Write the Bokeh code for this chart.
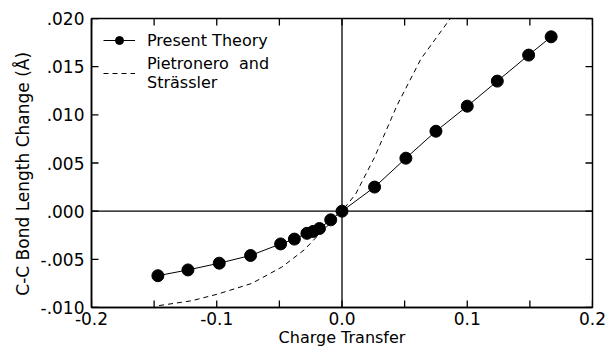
from bokeh.plotting import figure
from bokeh.models import (LinearAxis, FixedTicker, Span, Legend, LegendItem, Range1d)
from bokeh.embed import file_html
from bokeh.resources import INLINE

# Present theory
theory_x = [-0.147, -0.123, -0.098, -0.073, -0.049, -0.038, -0.028, -0.023, -0.018, -0.009, 0.0,
            0.026, 0.051, 0.075, 0.100, 0.124, 0.149, 0.167]
theory_y = [-0.0067, -0.0061, -0.0054, -0.0046, -0.0034, -0.0029, -0.0023, -0.0021, -0.0018, -0.0009, 0.0,
            0.0025, 0.0055, 0.0083, 0.0109, 0.0135, 0.0162, 0.0181]

# Pietronero and Strässler (dashed curve)
ps_x = [-0.146, -0.12, -0.099, -0.072, -0.048, -0.030, -0.019, -0.009, 0.0, 0.011, 0.026, 0.044, 0.063, 0.0865]
ps_y = [-0.0098, -0.0093, -0.0086, -0.0075, -0.0058, -0.0040, -0.0025, -0.0012, 0.0, 0.0018, 0.0056, 0.0110, 0.0158, 0.0200]

x_ticks = [-0.2, -0.1, 0.0, 0.1, 0.2]
x_tick_labels = ["-0.2", "-0.1", "0.0", "0.1", "0.2"]
x_minor = [-0.15, -0.05, 0.05, 0.15]
y_ticks = [-0.010, -0.005, 0.0, 0.005, 0.010, 0.015, 0.020]
y_tick_labels = ["-.010", "-.005", ".000", ".005", ".010", ".015", ".020"]

X_LO, X_HI = -0.2, 0.2
Y_LO, Y_HI = -0.010, 0.020
FRAME_W, FRAME_H = 501, 289
TICK_PX = 7

FONT = "DejaVu Sans"

p = figure(width=608, height=349, output_backend="svg", toolbar_location=None,
           x_range=Range1d(X_LO, X_HI), y_range=Range1d(Y_LO, Y_HI),
           x_axis_type=None, y_axis_type=None,
           min_border_left=91, min_border_right=16, min_border_top=18, min_border_bottom=42)
p.xgrid.visible = False
p.ygrid.visible = False
p.outline_line_color = "black"
p.outline_line_width = 1.5
p.background_fill_color = "white"
p.border_fill_color = "white"

def style(ax):
    ax.axis_line_color = "black"
    ax.axis_line_width = 1.5
    ax.major_tick_in = 0
    ax.major_tick_out = 0
    ax.minor_tick_in = 0
    ax.minor_tick_out = 0
    ax.major_label_text_font = FONT
    ax.major_label_text_font_size = "17px"
    ax.major_label_text_color = "black"
    ax.axis_label_text_font = FONT
    ax.axis_label_text_font_size = "16px"
    ax.axis_label_text_font_style = "normal"
    ax.axis_label_text_color = "black"

xb = LinearAxis(ticker=FixedTicker(ticks=x_ticks), axis_label="Charge Transfer")
style(xb)
xb.major_label_overrides = {t: l for t, l in zip(x_ticks, x_tick_labels)}
xb.major_label_standoff = 4
xb.axis_label_standoff = 0
p.add_layout(xb, "below")

yl = LinearAxis(ticker=FixedTicker(ticks=y_ticks), axis_label="C-C  Bond  Length  Change  (Å)")
style(yl)
yl.axis_label_text_font_size = "17px"
yl.major_label_overrides = {t: l for t, l in zip(y_ticks, y_tick_labels)}
yl.major_label_standoff = 7
yl.axis_label_standoff = 5
p.add_layout(yl, "left")

# inward tick marks on all four sides
dy = TICK_PX * (Y_HI - Y_LO) / FRAME_H
dx = TICK_PX * (X_HI - X_LO) / FRAME_W
all_x = sorted(x_ticks + x_minor)
n = len(all_x)
p.segment(x0=all_x, y0=[Y_LO] * n, x1=all_x, y1=[Y_LO + dy] * n, line_color="black", line_width=1.3)
p.segment(x0=all_x, y0=[Y_HI] * n, x1=all_x, y1=[Y_HI - dy] * n, line_color="black", line_width=1.3)
m = len(y_ticks)
p.segment(x0=[X_LO] * m, y0=y_ticks, x1=[X_LO + dx] * m, y1=y_ticks, line_color="black", line_width=1.3)
p.segment(x0=[X_HI] * m, y0=y_ticks, x1=[X_HI - dx] * m, y1=y_ticks, line_color="black", line_width=1.3)

p.add_layout(Span(location=0, dimension="width", line_color="black", line_width=1.3))
p.add_layout(Span(location=0, dimension="height", line_color="black", line_width=1.3))

r_ps = p.line(ps_x, ps_y, line_color="black", line_width=1, line_dash="5 4")
r_line = p.line(theory_x, theory_y, line_color="black", line_width=1)
r_pts = p.scatter(theory_x, theory_y, size=12, marker="circle", fill_color="black", line_color="black")

legend = Legend(items=[LegendItem(label="Present Theory", renderers=[r_line, r_pts]),
                       LegendItem(label="Pietronero  and\nSträssler", renderers=[r_ps])],
                location="top_left", border_line_color=None, background_fill_alpha=0,
                label_text_font=FONT, label_text_font_size="16px", label_text_color="black",
                glyph_width=32, label_standoff=12, spacing=4, margin=12, padding=6)
p.add_layout(legend)

open("out.html", "w").write(file_html(p, INLINE))
